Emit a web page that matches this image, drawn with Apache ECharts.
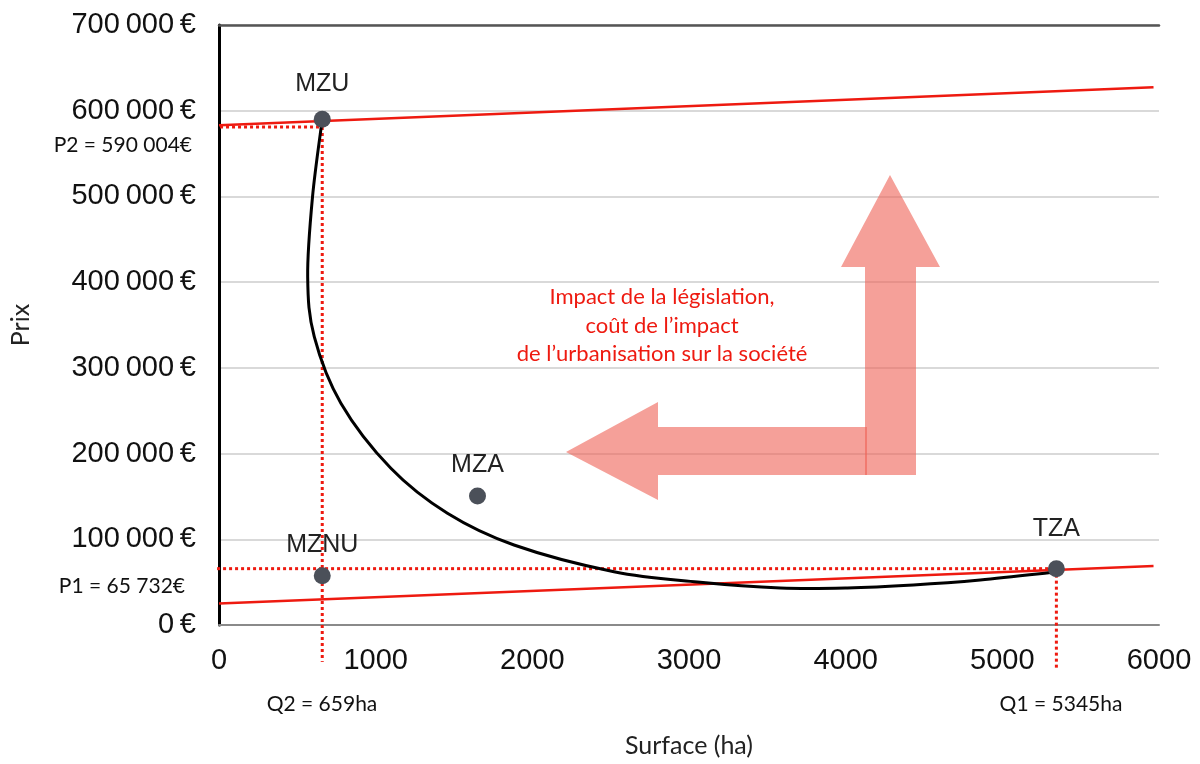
<!DOCTYPE html>
<html>
<head>
<meta charset="utf-8">
<script src="https://cdn.jsdelivr.net/npm/echarts@6/dist/echarts.min.js"></script>
<style>
  html, body { margin: 0; padding: 0; background: #fff; }
  #chart { width: 1200px; height: 764px; }
</style>
</head>
<body>
<div id="chart"></div>
<script>
// axis ticks
const xTicks = [0, 1000, 2000, 3000, 4000, 5000, 6000];
const yTicks = [0, 100000, 200000, 300000, 400000, 500000, 600000, 700000];

// markets (surface ha, prix €)
const pointNames = ["MZU", "MZNU", "MZA", "TZA"];
const pointValues = [[659, 590004], [659, 57500], [1650, 150500], [5345, 65732]];

// demand curve
const curveData = [
  [659, 590004], [597, 499700], [566, 406300], [608, 336300], [778, 258700],
  [1097, 182800], [1458, 130300], [1883, 93300], [2521, 62200], [3054, 50200],
  [3583, 43200], [4011, 43200], [4432, 46700], [4859, 52500], [5330, 61500]
];

// the two red price lines
const upperLine = [[0, 583000], [5965, 627500]];
const lowerLine = [[0, 25000], [5965, 68800]];

// dotted guides
const guideP2 = [[-453, 581000], [659, 581000]];
const guideQ2 = [[659, 581000], [659, -43000]];
const guideP1 = [[-357, 65732], [5345, 65732]];
const guideQ1 = [[5345, 65732], [5345, -50000]];

const fmtEuro = v => String(v).replace(/\B(?=(\d{3})+(?!\d))/g, "\u2009") + "\u2009€";

const chart = echarts.init(document.getElementById("chart"));

const red = "#ee1a10";
const arrowFill = "rgba(238,97,85,0.6)";
const sans = "'Liberation Sans', Arial, sans-serif";
const calib = "Lato, 'Open Sans', sans-serif";

function dotted(data) {
  return {
    type: "line", data: data, clip: false, symbol: "none", silent: true,
    lineStyle: { color: red, width: 3, type: [3, 3] }, z: 3
  };
}

// smooth curve through the read points (catmull-rom drawn as beziers)
function renderCurve(params, api) {
  if (params.dataIndex !== 0) return null;
  const p = curveData.map(d => api.coord(d));
  const n = p.length;
  let d = "M" + p[0][0] + " " + p[0][1];
  for (let i = 0; i < n - 1; i++) {
    const a = p[Math.max(i - 1, 0)], b = p[i], c = p[i + 1], e = p[Math.min(i + 2, n - 1)];
    const c1 = [b[0] + (c[0] - a[0]) / 6, b[1] + (c[1] - a[1]) / 6];
    const c2 = [c[0] - (e[0] - b[0]) / 6, c[1] - (e[1] - b[1]) / 6];
    d += " C" + c1[0] + " " + c1[1] + " " + c2[0] + " " + c2[1] + " " + c[0] + " " + c[1];
  }
  return {
    type: "path",
    shape: { pathData: d },
    style: { stroke: "#000", lineWidth: 3, fill: null }
  };
}

const labelDist = [14, 10, 10, 19];

chart.setOption({
  animation: false,
  grid: { left: 218, right: 41, top: 25, bottom: 139 },
  xAxis: [{
    type: "value", min: 0, max: 6000, interval: 1000,
    name: "Surface (ha)", nameLocation: "middle", nameGap: 108,
    nameTextStyle: { fontFamily: calib, fontSize: 25, color: "#222" },
    axisLine: { lineStyle: { color: "#8a8a8a", width: 2 } },
    axisTick: { show: false },
    splitLine: { show: false },
    axisLabel: { fontFamily: sans, fontSize: 29, color: "#111", margin: 21, formatter: v => String(v) }
  }, {
    type: "value", min: 0, max: 6000, position: "top",
    axisLine: { show: true, lineStyle: { color: "#555", width: 2.5 } },
    axisTick: { show: false }, axisLabel: { show: false }, splitLine: { show: false }
  }],
  yAxis: {
    type: "value", min: 0, max: 700000, interval: 100000,
    name: "Prix", nameLocation: "middle", nameGap: 186, nameRotate: 90,
    nameTextStyle: { fontFamily: calib, fontSize: 25, color: "#222" },
    axisLine: { show: true, lineStyle: { color: "#000", width: 3 } },
    axisTick: { show: false },
    splitLine: { lineStyle: { color: "#d9d9d9", width: 2 } },
    axisLabel: { fontFamily: sans, fontSize: 29, color: "#111", margin: 23, formatter: fmtEuro }
  },
  series: [
    {
      type: "line", data: upperLine, symbol: "none", silent: true,
      lineStyle: { color: red, width: 2.5 }, z: 3
    },
    {
      type: "line", data: lowerLine, symbol: "none", silent: true,
      lineStyle: { color: red, width: 2.5 }, z: 3
    },
    dotted(guideP2), dotted(guideQ2), dotted(guideP1), dotted(guideQ1),
    {
      type: "custom", data: curveData, renderItem: renderCurve, silent: true,
      encode: { x: 0, y: 1 }, z: 4
    },
    {
      type: "scatter", symbolSize: 17, z: 5,
      itemStyle: { color: "#4b5059", opacity: 1 },
      label: {
        show: true, position: "top", formatter: "{b}",
        fontFamily: sans, fontSize: 25, color: "#222"
      },
      data: pointNames.map((n, i) => ({
        name: n, value: pointValues[i], label: { distance: labelDist[i] }
      }))
    }
  ],
  graphic: [
    {
      type: "polygon", z: 10, silent: true,
      shape: { points: [[865, 475], [916, 475], [916, 267], [940, 267], [890, 175], [841, 267], [865, 267]] },
      style: { fill: arrowFill }
    },
    {
      type: "polygon", z: 10, silent: true,
      shape: { points: [[867, 427], [658, 427], [658, 402], [566, 452], [658, 500], [658, 475], [867, 475]] },
      style: { fill: arrowFill }
    },
    {
      type: "text", z: 11, x: 662, y: 283,
      style: {
        text: "Impact de la législation,\ncoût de l’impact\nde l’urbanisation sur la société",
        fill: red, font: "22px " + calib, textAlign: "center", lineHeight: 28.5
      }
    },
    { type: "text", x: 192, y: 145, style: { text: "P2 = 590 004€", fill: "#111", font: "21px " + calib, textAlign: "right", textVerticalAlign: "middle" } },
    { type: "text", x: 185, y: 586, style: { text: "P1 = 65 732€", fill: "#111", font: "21px " + calib, textAlign: "right", textVerticalAlign: "middle" } },
    { type: "text", x: 322, y: 704, style: { text: "Q2 = 659ha", fill: "#111", font: "21px " + calib, textAlign: "center", textVerticalAlign: "middle" } },
    { type: "text", x: 1061, y: 704, style: { text: "Q1 = 5345ha", fill: "#111", font: "21px " + calib, textAlign: "center", textVerticalAlign: "middle" } }
  ]
});
</script>
</body>
</html>
